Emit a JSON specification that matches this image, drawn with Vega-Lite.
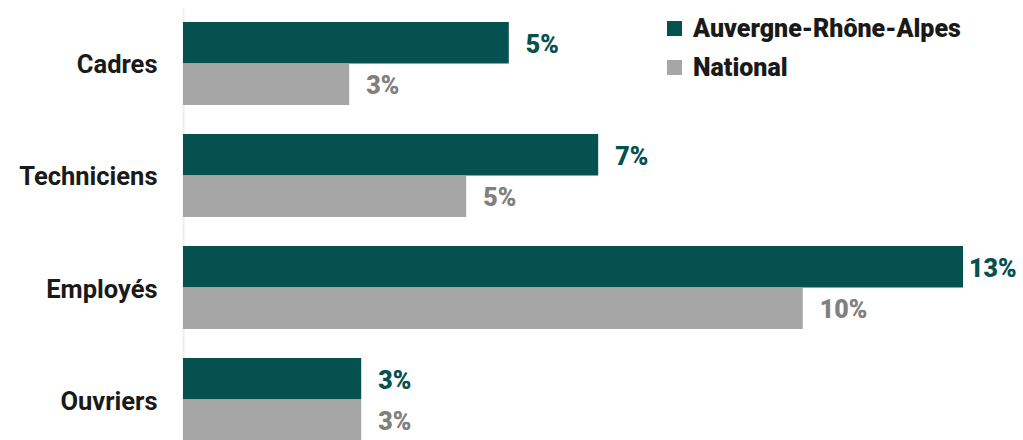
{
  "$schema": "https://vega.github.io/schema/vega-lite/v6.json",
  "autosize": {"type": "none"},
  "padding": {"left": 183, "top": 8, "right": 0, "bottom": 0},
  "width": 840,
  "height": 447,
  "background": "white",
  "config": {
    "view": {"stroke": null},
    "font": "Roboto"
  },
  "data": {
    "values": [
      {"categorie": "Cadres", "serie": "Auvergne-Rhône-Alpes", "valeur": 0.0543},
      {"categorie": "Cadres", "serie": "National", "valeur": 0.0277},
      {"categorie": "Techniciens", "serie": "Auvergne-Rhône-Alpes", "valeur": 0.0692},
      {"categorie": "Techniciens", "serie": "National", "valeur": 0.0472},
      {"categorie": "Employés", "serie": "Auvergne-Rhône-Alpes", "valeur": 0.13},
      {"categorie": "Employés", "serie": "National", "valeur": 0.1033},
      {"categorie": "Ouvriers", "serie": "Auvergne-Rhône-Alpes", "valeur": 0.0297},
      {"categorie": "Ouvriers", "serie": "National", "valeur": 0.0297}
    ]
  },
  "encoding": {
    "y": {
      "field": "categorie",
      "type": "nominal",
      "sort": ["Cadres", "Techniciens", "Employés", "Ouvriers"],
      "scale": {"paddingInner": 0.259, "paddingOuter": 0.125},
      "axis": {
        "title": null,
        "ticks": false,
        "domain": true,
        "domainColor": "#eeeeee",
        "domainWidth": 2,
        "labelFont": "Roboto",
        "labelFontSize": 25.5,
        "labelFontWeight": "bold",
        "labelColor": "#1a1a1a",
        "labelPadding": 26,
        "labelOffset": 2
      }
    },
    "yOffset": {
      "field": "serie",
      "type": "nominal",
      "sort": ["Auvergne-Rhône-Alpes", "National"],
      "scale": {"paddingInner": 0, "paddingOuter": 0}
    },
    "x": {
      "field": "valeur",
      "type": "quantitative",
      "scale": {"domain": [0, 0.14], "nice": false},
      "axis": null
    }
  },
  "layer": [
    {
      "mark": {"type": "bar"},
      "encoding": {
        "color": {
          "field": "serie",
          "type": "nominal",
          "sort": ["Auvergne-Rhône-Alpes", "National"],
          "scale": {"domain": ["Auvergne-Rhône-Alpes", "National"], "range": ["#04514f", "#a6a6a6"]},
          "legend": {
            "title": null,
            "orient": "none",
            "legendX": 479,
            "legendY": 8,
            "symbolType": "square",
            "symbolSize": 225,
            "symbolStrokeWidth": 0,
            "labelFont": "'Roboto Black', Roboto",
            "labelFontSize": 25,
            "labelFontWeight": 900,
            "labelColor": "#1a1a1a",
            "labelOffset": 6,
            "rowPadding": 13,
            "labelLimit": 400
          }
        }
      }
    },
    {
      "transform": [{"filter": "datum.valeur < 0.12"}],
      "mark": {"type": "text", "align": "left", "baseline": "middle", "dx": 17, "dy": 2, "font": "'Roboto Black', Roboto", "fontSize": 25, "fontWeight": 900},
      "encoding": {
        "text": {"field": "valeur", "type": "quantitative", "format": ".0%"},
        "color": {
          "field": "serie",
          "type": "nominal",
          "scale": {"domain": ["Auvergne-Rhône-Alpes", "National"], "range": ["#04514f", "#808080"]},
          "legend": null
        }
      }
    },
    {
      "transform": [{"filter": "datum.valeur >= 0.12"}],
      "mark": {"type": "text", "align": "left", "baseline": "middle", "dx": 6, "dy": 2, "font": "'Roboto Black', Roboto", "fontSize": 25, "fontWeight": 900},
      "encoding": {
        "text": {"field": "valeur", "type": "quantitative", "format": ".0%"},
        "color": {
          "field": "serie",
          "type": "nominal",
          "scale": {"domain": ["Auvergne-Rhône-Alpes", "National"], "range": ["#04514f", "#808080"]},
          "legend": null
        }
      }
    }
  ],
  "resolve": {"scale": {"color": "independent"}}
}
